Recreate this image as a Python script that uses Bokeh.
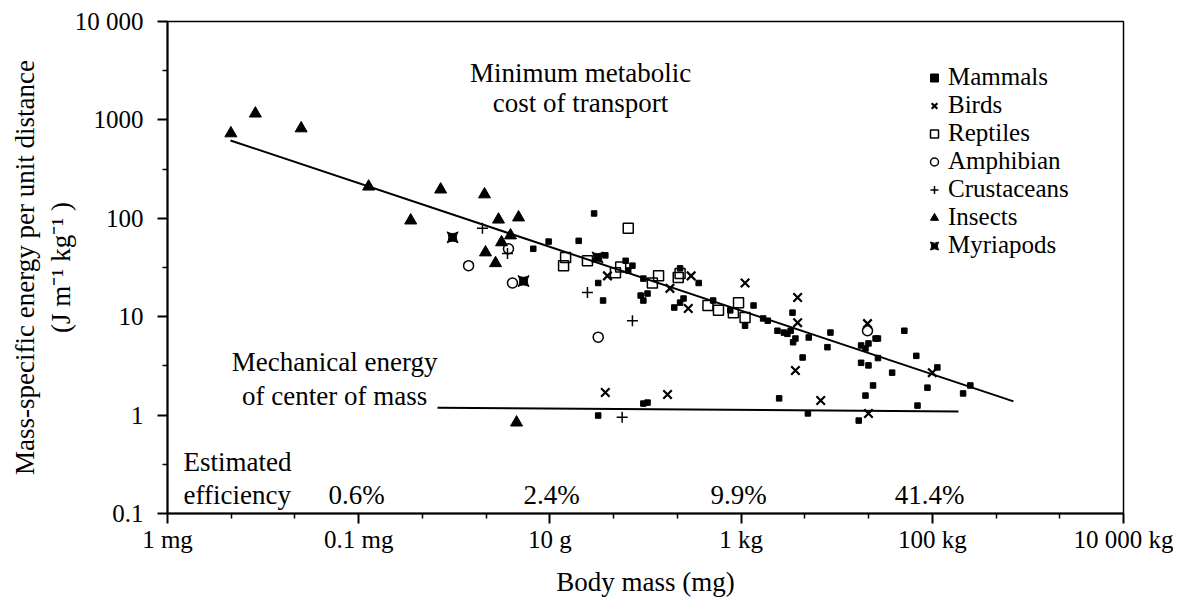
from bokeh.plotting import figure
from bokeh.models import FixedTicker, Label, Legend, LegendItem, Range1d
from bokeh.embed import file_html
from bokeh.resources import INLINE

# ---------------- data (body mass in mg, cost in J m^-1 kg^-1) ----------------
mammal_mass = [2.9e4, 2.0e4, 6.7e3, 9.7e3, 3.8e4, 3.2e4, 3.6e4, 6.2e4, 7.3e4, 6.6e4, 9.5e4, 8.9e4,
               1.05e5, 9.5e4, 2.0e5, 2.3e5, 2.5e5, 2.3e5, 3.6e5, 5.1e5, 7.7e5, 1.1e6, 1.35e6,
               1.7e6, 1.9e6, 2.4e6, 2.8e6, 3.05e6, 3.3e6, 3.5e6, 3.7e6, 3.45e6, 4.4e6, 5.1e6,
               8.6e6, 8.0e6, 1.8e7, 2.0e7, 2.15e7, 1.8e7, 2.15e7, 2.7e7, 2.7e7, 3.8e7, 2.4e7,
               2.0e7, 1.7e7, 5.0e6, 2.5e6, 3.2e4, 9.5e4, 1.05e5, 5.1e7, 6.8e7, 1.13e8, 8.9e7,
               2.5e8, 2.1e8, 7.0e7, 2.55e7]
mammal_cost = [112, 59, 49, 58, 42, 22, 14.6, 37, 33, 29.5, 24.4, 16.4,
               17.2, 14.6, 12.4, 13.9, 15.3, 31, 22, 14.6, 11.6, 8.1, 13,
               9.6, 9.1, 7.2, 6.9, 6.7, 7.2, 5.5, 6.0, 11, 3.85, 6.15,
               6.9, 4.9, 5.1, 4.75, 5.35, 3.4, 3.2, 6.0, 3.8, 2.7, 2.0,
               1.58, 0.88, 1.04, 1.48, 0.99, 1.31, 1.34, 7.2, 4.0, 3.05, 1.9,
               2.0, 1.66, 1.25, 6.0]

bird_mass = [1.1e6, 3.9e6, 3.7e6, 6.8e6, 3.8e4, 1.7e5, 2.1e7, 2.15e7, 1.8e5, 2.8e5, 3.0e5, 4.0e4, 3.9e6, 1.0e8]
bird_cost = [22, 15.7, 2.84, 1.41, 1.70, 1.62, 8.5, 1.04, 19.4, 12.1, 26, 26, 8.7, 2.7]

reptile_mass = [6.6e4, 1.46e4, 1.39e4, 2.47e4, 4.85e4, 5.5e4, 1.37e5, 1.18e5, 2.2e5, 2.3e5,
                4.5e5, 5.8e5, 9.4e5, 8.3e5, 1.1e6]
reptile_cost = [79, 40, 33, 37, 28, 32, 26, 22, 25, 27.5, 13, 11.6, 13.9, 11, 9.8]

amphibian_mass = [1410, 4060, 3690, 3.2e4, 2.1e7]
amphibian_cost = [33, 22, 49, 6.2, 7.2]

crustacean_mass = [1970, 3600, 2.47e4, 7.3e4, 5.7e4]
crustacean_cost = [79, 44, 17.6, 9.1, 0.95]

insect_mass = [4.6, 8.3, 25, 127, 350, 720, 2070, 2900, 4700, 3870, 3120, 2120, 2700, 4480]
insect_cost = [730, 1160, 820, 210, 95, 196, 175, 97, 102, 67, 57, 45, 35, 0.84]

myriapod_mass = [960, 5300, 3.15e4]
myriapod_cost = [64, 23, 40]

# fitted lines (end points)
cot_fit_mass = [4.56, 7.07e8]
cot_fit_cost = [618, 1.38]
mech_fit_mass = [667, 1.88e8]
mech_fit_cost = [1.19, 1.09]

# axis ticks
x_tick_values = [1, 1e2, 1e4, 1e6, 1e8, 1e10]
x_tick_labels = ["1 mg", "0.1 mg", "10 g", "1 kg", "100 kg", "10 000 kg"]
y_tick_values = [0.1, 1, 10, 100, 1000, 10000]
y_tick_labels = ["0.1", "1", "10", "100", "1000", "10 000"]

efficiency_labels = ["0.6%", "2.4%", "9.9%", "41.4%"]
efficiency_mass = [95, 1.04e4, 9.4e5, 9.35e7]

FONT = "Liberation Serif"
TXT = "27px"

p = figure(x_axis_type="log", y_axis_type="log",
           x_range=Range1d(1, 1e10), y_range=Range1d(0.1, 1e4),
           frame_width=956, frame_height=492,
           min_border_left=167, min_border_right=50, min_border_top=21, min_border_bottom=70,
           output_backend="svg", toolbar_location=None,
           background_fill_color="white", border_fill_color="white")
p.grid.visible = False
p.outline_line_color = "black"
p.outline_line_width = 1.5

x_minor = []
for a in x_tick_values[:-1]:
    x_minor += [a * 10 ** (2 / 3), a * 10 ** (4 / 3)]
y_minor = [v * 10 ** 0.5 for v in y_tick_values[:-1]]
p.xaxis.ticker = FixedTicker(ticks=x_tick_values, minor_ticks=x_minor)
p.yaxis.ticker = FixedTicker(ticks=y_tick_values, minor_ticks=y_minor)
p.xaxis.major_label_overrides = {float(v): t for v, t in zip(x_tick_values, x_tick_labels)}
p.yaxis.major_label_overrides = {float(v): t for v, t in zip(y_tick_values, y_tick_labels)}

for ax in (p.xaxis[0], p.yaxis[0]):
    ax.axis_line_width = 2
    ax.axis_line_color = "black"
    ax.major_tick_out = 10
    ax.major_tick_in = 0
    ax.minor_tick_out = 5
    ax.minor_tick_in = 0
    ax.major_tick_line_width = 2
    ax.minor_tick_line_width = 1.5
    ax.major_tick_line_color = "black"
    ax.minor_tick_line_color = "black"
    ax.major_label_text_font = FONT
    ax.major_label_text_font_size = "25px"
    ax.major_label_text_color = "black"
    ax.axis_label_text_font = FONT
    ax.axis_label_text_font_size = TXT
    ax.axis_label_text_font_style = "normal"
    ax.axis_label_text_color = "black"

p.xaxis.major_label_standoff = 2
p.yaxis.major_label_standoff = 14
p.xaxis.axis_label = "Body mass (mg)"
p.xaxis.axis_label_standoff = 11
p.yaxis.axis_label = "Mass-specific energy per unit distance\n(J m\u207b\u00b9 kg\u207b\u00b9 )"
p.yaxis.axis_label_standoff = -4

# fitted lines
p.line(cot_fit_mass, cot_fit_cost, line_color="black", line_width=2)
p.line(mech_fit_mass, mech_fit_cost, line_color="black", line_width=2)

r_mam = p.scatter(mammal_mass, mammal_cost, marker="square", size=5.5, fill_color="black", line_color="black")
r_bird = p.scatter(bird_mass, bird_cost, marker="x", size=12, line_color="black", line_width=2.2)
r_rep = p.scatter(reptile_mass, reptile_cost, marker="square", size=10, fill_color=None,
                  line_color="black", line_width=1.5)
r_amp = p.scatter(amphibian_mass, amphibian_cost, marker="circle", size=10, fill_color=None,
                  line_color="black", line_width=1.5)
r_cru = p.scatter(crustacean_mass, crustacean_cost, marker="cross", size=11, line_color="black",
                  line_width=1.5)
r_ins = p.scatter(insect_mass, insect_cost, marker="triangle", size=12, fill_color="black",
                  line_color="black")
r_myr = p.scatter(myriapod_mass, myriapod_cost, marker="square_pin", size=11, fill_color="black",
                  line_color="black")

legend = Legend(items=[
    LegendItem(label="Mammals", renderers=[r_mam]),
    LegendItem(label="Birds", renderers=[r_bird]),
    LegendItem(label="Reptiles", renderers=[r_rep]),
    LegendItem(label="Amphibian", renderers=[r_amp]),
    LegendItem(label="Crustaceans", renderers=[r_cru]),
    LegendItem(label="Insects", renderers=[r_ins]),
    LegendItem(label="Myriapods", renderers=[r_myr]),
], location=(757, 254), label_text_font=FONT, label_text_font_size="25px",
    label_text_color="black",
    glyph_width=20, glyph_height=27, label_height=27, spacing=0, padding=0, margin=0,
    label_standoff=4, border_line_color=None, background_fill_alpha=0)
p.add_layout(legend)


def add_text(x, y, text, align="center"):
    p.add_layout(Label(x=x, y=y, text=text, text_align=align, text_baseline="alphabetic",
                       text_font=FONT, text_font_size=TXT, text_color="black"))


add_text(2.09e4, 3030, "Minimum metabolic")
add_text(2.09e4, 1470, "cost of transport")
add_text(56, 3.5, "Mechanical energy")
add_text(56, 1.58, "of center of mass")
add_text(1.47, 0.33, "Estimated", "left")
add_text(1.47, 0.155, "efficiency", "left")
for m, t in zip(efficiency_mass, efficiency_labels):
    add_text(m, 0.155, t)

open("out.html", "w").write(file_html(p, INLINE))
